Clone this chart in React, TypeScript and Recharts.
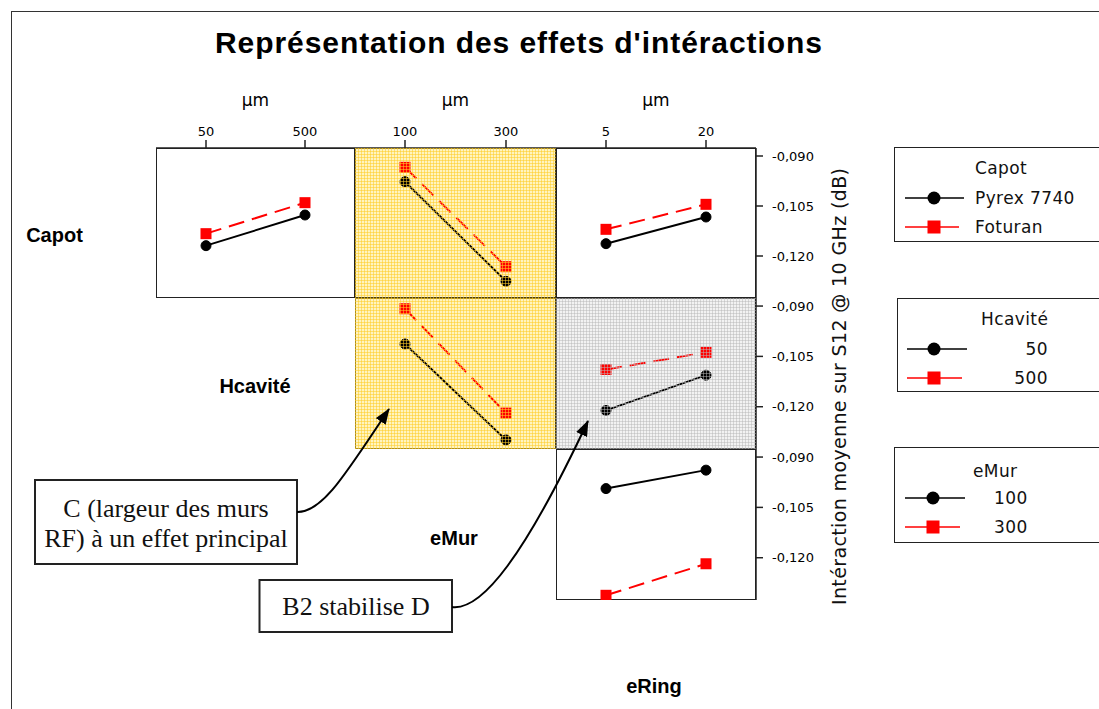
import React from 'react';
import { LineChart, Line, XAxis, YAxis } from 'recharts';

// factor levels (column factors)
const hcaviteLevels = ['50', '500'];
const emurLevels = ['100', '300'];
const eringLevels = ['5', '20'];

// legend entries (row factors)
const capotNames = ['Pyrex 7740', 'Foturan'];
const hcaviteNames = ['50', '500'];
const emurNames = ['100', '300'];

// Capot x Hcavité / eMur / eRing
const capotHcavitePyrex = [-0.1169, -0.1077];
const capotHcaviteFoturan = [-0.1133, -0.104];
const capotEmurPyrex = [-0.0977, -0.1276];
const capotEmurFoturan = [-0.0934, -0.1232];
const capotEringPyrex = [-0.1163, -0.1083];
const capotEringFoturan = [-0.112, -0.1045];

// Hcavité x eMur / eRing
const hcaviteEmur50 = [-0.1013, -0.1299];
const hcaviteEmur500 = [-0.0908, -0.1219];
const hcaviteEring50 = [-0.1211, -0.1106];
const hcaviteEring500 = [-0.1089, -0.1038];

// eMur x eRing
const emurEring100 = [-0.0994, -0.0939];
const emurEring300 = [-0.1312, -0.1218];

const yTicks = [-0.09, -0.105, -0.12];
const yDomain = [-0.1326, -0.0876];

const fmt = (v: number) => v.toFixed(3).replace('.', ',');

const squareDot = (props: any) => {
  const { cx, cy, index } = props;
  if (cx == null || cy == null) return <g key={`sq-${index}`} />;
  return <rect key={`sq-${index}`} x={cx - 5.5} y={cy - 5.5} width={11} height={11} fill="#ff0000" />;
};

type PanelProps = {
  left: number;
  top: number;
  w: number;
  h: number;
  levels: string[];
  first: number[];
  second: number[];
  topAxis?: boolean;
  rightAxis?: boolean;
  shade?: 'yellow' | 'grey';
};

function Panel({ left, top, w, h, levels, first, second, topAxis, rightAxis, shade }: PanelProps) {
  const data = levels.map((level, i) => ({ level, first: first[i], second: second[i] }));
  const axisH = topAxis ? 60 : 0;
  const axisW = rightAxis ? 70 : 0;
  const bg = shade === 'yellow' ? '#fff4c0' : shade === 'grey' ? '#f2f2f2' : '#fff';
  const hatch = shade === 'yellow' ? 'rgba(255,205,40,0.55)' : 'rgba(185,185,185,0.5)';
  const frame = shade === 'yellow' ? '1.5px solid #4a4010' : '1.5px solid #222';
  const tickFont = { fontSize: 13, fill: '#000', fontFamily: 'DejaVu Sans' };
  return (
    <>
      <div
        style={{
          position: 'absolute', left, top, width: w, height: h, background: bg,
          border: frame, boxSizing: 'border-box',
        }}
      />
      <div style={{ position: 'absolute', left, top: top - axisH }}>
        <LineChart width={w + axisW} height={h + axisH} data={data} margin={{ top: 0, right: 0, bottom: 0, left: 0 }}>
          <XAxis
            dataKey="level"
            orientation="top"
            hide={!topAxis}
            height={60}
            padding={{ left: 50, right: 50 }}
            tickSize={8}
            tickMargin={4}
            tick={tickFont}
            axisLine={{ stroke: '#222', strokeWidth: 1.5 }}
            tickLine={{ stroke: '#222', strokeWidth: 1.5 }}
            label={{ value: 'µm', position: 'insideTop', offset: 6, fontSize: 17, fill: '#000', fontFamily: 'DejaVu Sans' }}
          />
          <YAxis
            orientation="right"
            hide={!rightAxis}
            width={70}
            domain={yDomain}
            ticks={yTicks}
            tickFormatter={fmt}
            tickSize={7}
            tickMargin={9}
            tick={tickFont}
            axisLine={{ stroke: '#222', strokeWidth: 1.5 }}
            tickLine={{ stroke: '#222', strokeWidth: 1.5 }}
          />
          <Line
            dataKey="first"
            type="linear"
            stroke="#000"
            strokeWidth={2}
            dot={{ r: 5, fill: '#000', stroke: '#000', strokeWidth: 1 }}
            activeDot={false}
            isAnimationActive={false}
          />
          <Line
            dataKey="second"
            type="linear"
            stroke="#ff0000"
            strokeWidth={2}
            strokeDasharray="16 8"
            dot={squareDot}
            activeDot={false}
            isAnimationActive={false}
          />
        </LineChart>
      </div>
      {shade && (
        <div
          style={{
            position: 'absolute', left, top, width: w, height: h, pointerEvents: 'none',
            backgroundImage: `linear-gradient(to right, ${hatch} 1px, transparent 1px), linear-gradient(to bottom, ${hatch} 1px, transparent 1px)`,
            backgroundSize: '3px 3px',
          }}
        />
      )}
    </>
  );
}

type LegendProps = {
  left: number;
  top: number;
  height: number;
  title: string;
  titleX: number;
  titleY: number;
  names: string[];
  rowY: number[];
  iconX: number;
  iconW: number;
  markX: number;
  labelX: number;
  alignRight?: boolean;
};

function LegendBox({ left, top, height, title, titleX, titleY, names, rowY, iconX, iconW, markX, labelX, alignRight }: LegendProps) {
  const txt: React.CSSProperties = {
    position: 'absolute', fontSize: 17, letterSpacing: 0.4, fontFamily: 'DejaVu Sans', color: '#111',
    whiteSpace: 'nowrap', lineHeight: '20px',
  };
  return (
    <div
      style={{
        position: 'absolute', left, top, width: 230, height, border: '1.5px solid #222',
        boxSizing: 'border-box', background: '#fff',
      }}
    >
      <div style={{ ...txt, left: titleX, top: titleY - 10 }}>{title}</div>
      {names.map((name, i) => (
        <React.Fragment key={name}>
          <svg style={{ position: 'absolute', left: iconX, top: rowY[i] - 8 }} width={iconW} height={16}>
            <line x1={0} y1={8} x2={i === 0 ? iconW : iconW - 5} y2={8} stroke={i === 0 ? '#000' : '#ff0000'} strokeWidth={1.5} />
            {i === 0 ? (
              <circle cx={markX} cy={8} r={6.5} fill="#000" />
            ) : (
              <rect x={markX - 6.5} y={1.5} width={13} height={13} fill="#ff0000" />
            )}
          </svg>
          <div
            style={{
              ...txt, left: labelX, top: rowY[i] - 10,
              transform: alignRight ? 'translateX(-100%)' : undefined,
            }}
          >
            {name}
          </div>
        </React.Fragment>
      ))}
    </div>
  );
}

const colX = [156, 355, 556];
const colW = [199, 201, 200];
const rowY = [148, 298, 449];
const rowH = [150, 151, 151];

export default function App() {
  return (
    <div
      style={{
        position: 'absolute', left: 0, top: 0, width: 1099, height: 709, overflow: 'hidden',
        background: '#fff', fontFamily: 'Liberation Sans, Arial, sans-serif',
      }}
    >
      <div
        style={{
          position: 'absolute', left: 11, top: 11, width: 1200, height: 800,
          borderLeft: '1.5px solid #333', borderTop: '1.5px solid #333',
        }}
      />

      <Panel left={colX[0]} top={rowY[0]} w={colW[0]} h={rowH[0]} levels={hcaviteLevels}
        first={capotHcavitePyrex} second={capotHcaviteFoturan} topAxis />
      <Panel left={colX[1]} top={rowY[0]} w={colW[1]} h={rowH[0]} levels={emurLevels}
        first={capotEmurPyrex} second={capotEmurFoturan} topAxis shade="yellow" />
      <Panel left={colX[2]} top={rowY[0]} w={colW[2]} h={rowH[0]} levels={eringLevels}
        first={capotEringPyrex} second={capotEringFoturan} topAxis rightAxis />

      <Panel left={colX[1]} top={rowY[1]} w={colW[1]} h={rowH[1]} levels={emurLevels}
        first={hcaviteEmur50} second={hcaviteEmur500} shade="yellow" />
      <Panel left={colX[2]} top={rowY[1]} w={colW[2]} h={rowH[1]} levels={eringLevels}
        first={hcaviteEring50} second={hcaviteEring500} rightAxis shade="grey" />

      <Panel left={colX[2]} top={rowY[2]} w={colW[2]} h={rowH[2]} levels={eringLevels}
        first={emurEring100} second={emurEring300} rightAxis />

      <LegendBox left={894} top={147} height={95} title="Capot" titleX={80} titleY={20}
        names={capotNames} rowY={[50, 79]} iconX={10} iconW={59} markX={29} labelX={80} />
      <LegendBox left={897} top={298} height={94} title="Hcavité" titleX={83} titleY={20}
        names={hcaviteNames} rowY={[50, 79]} iconX={9} iconW={60} markX={27} labelX={150} alignRight />
      <LegendBox left={894} top={447} height={96} title="eMur" titleX={78} titleY={23}
        names={emurNames} rowY={[50, 79]} iconX={10} iconW={60} markX={28} labelX={99} />

      <svg
        width={1099}
        height={709}
        style={{ position: 'absolute', left: 0, top: 0, pointerEvents: 'none' }}
      >
        <defs>
          <marker id="ah" markerWidth="16" markerHeight="12" refX="15" refY="6" orient="auto" markerUnits="userSpaceOnUse">
            <path d="M0,0 L16,6 L0,12 z" fill="#000" />
          </marker>
        </defs>

        <text x={518.5} y={53} textAnchor="middle" fontSize={30} fontWeight="bold"
          fontFamily="Liberation Sans, Arial, sans-serif" textLength={607} lengthAdjust="spacing">
          Représentation des effets d'intéractions
        </text>

        <g fontFamily="Liberation Sans, Arial, sans-serif" fontWeight="bold" fontSize={20} textAnchor="middle">
          <text x={54.5} y={242}>Capot</text>
          <text x={255} y={393}>Hcavité</text>
          <text x={454} y={545}>eMur</text>
          <text x={654} y={693}>eRing</text>
        </g>

        <text x={846} y={386.5} transform="rotate(-90 846 386.5)" textAnchor="middle" fontSize={19}
          fontFamily="DejaVu Sans" textLength={437} lengthAdjust="spacing" fill="#111">
          Intéraction moyenne sur S12 @ 10 GHz (dB)
        </text>

        <rect x={35} y={480} width={262} height={84} fill="#fff" stroke="#222" strokeWidth={2} />
        <g fontFamily="Liberation Serif, Times New Roman, serif" fontSize={26} textAnchor="middle" fill="#111">
          <text x={166} y={517}>C (largeur des murs</text>
          <text x={166} y={547}>RF) à un effet principal</text>
        </g>
        <path d="M297,512 C322,513 345,475 389,409" fill="none" stroke="#000" strokeWidth={2} markerEnd="url(#ah)" />

        <rect x={259.5} y={580} width={192.5} height={52} fill="#fff" stroke="#222" strokeWidth={2} />
        <text x={356} y={615} textAnchor="middle" fontFamily="Liberation Serif, Times New Roman, serif" fontSize={26} fill="#111">
          B2 stabilise D
        </text>
        <path d="M452,607 C482,611 525,555 588,421" fill="none" stroke="#000" strokeWidth={2} markerEnd="url(#ah)" />
      </svg>
    </div>
  );
}
